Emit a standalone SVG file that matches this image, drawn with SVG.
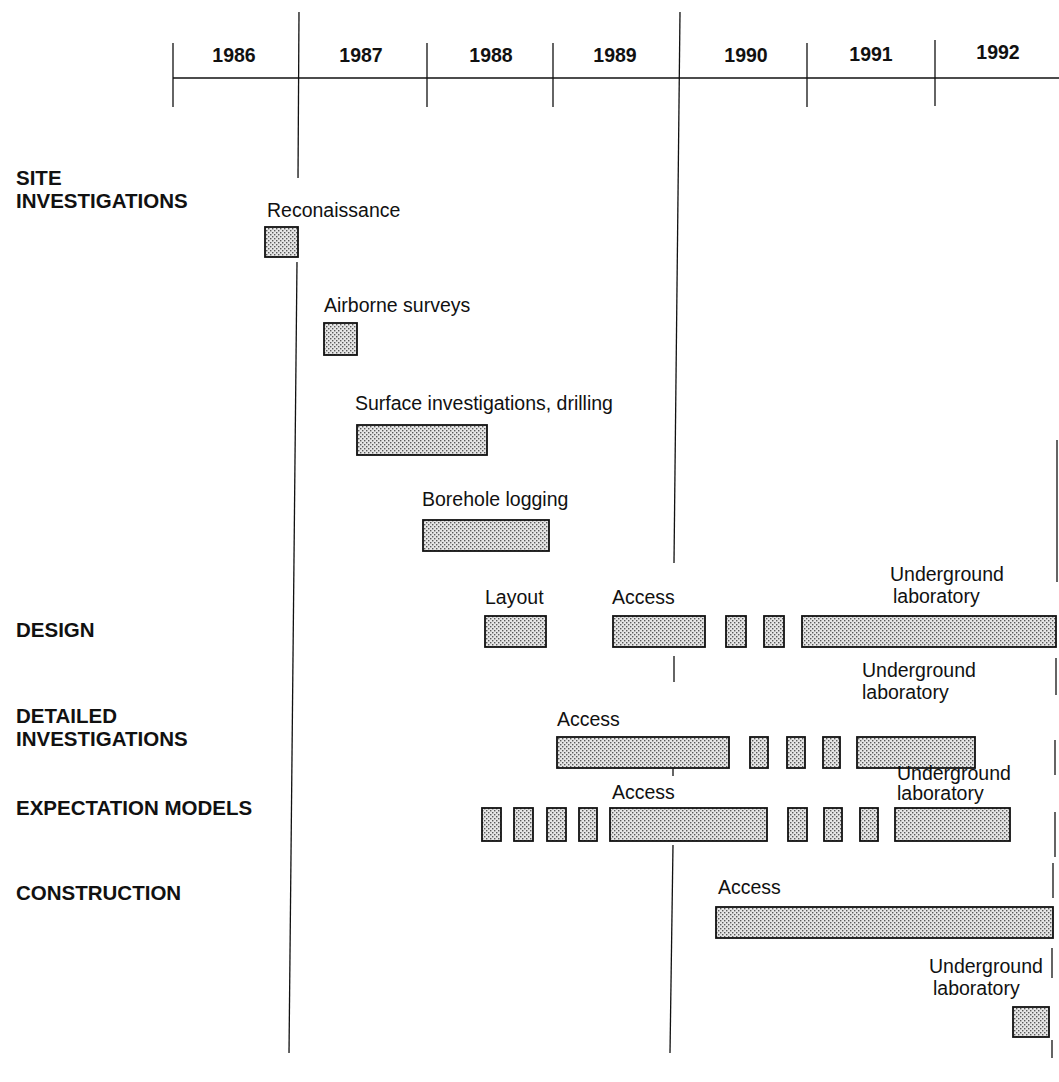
<svg xmlns="http://www.w3.org/2000/svg" width="1059" height="1082" viewBox="0 0 1059 1082">
<style>
.yr{font-family:"Liberation Sans",Arial,sans-serif;font-weight:bold;font-size:19.5px;fill:#111;text-anchor:middle}
.hd{font-family:"Liberation Sans",Arial,sans-serif;font-weight:bold;font-size:20.5px;fill:#111}
.lb{font-family:"Liberation Sans",Arial,sans-serif;font-size:19.5px;fill:#111}
.bar{fill:url(#dots);stroke:#111;stroke-width:1.8}
.ln{stroke:#111;stroke-width:1.3;fill:none}
</style>
<defs>
<pattern id="dots" width="4" height="4" patternUnits="userSpaceOnUse">
<rect width="4" height="4" fill="#e6e6e6"/>
<rect x="0" y="0" width="1.4" height="1.4" fill="#5a5a5a"/>
<rect x="2" y="2" width="1.4" height="1.4" fill="#5a5a5a"/>
</pattern>
</defs>
<rect width="1059" height="1082" fill="#fff"/>
<g id="axis">
<line class="ln" x1="173" y1="78" x2="1059" y2="78"/>
<line class="ln" x1="173" y1="43" x2="173" y2="107"/>
<line class="ln" x1="427" y1="43" x2="427" y2="107"/>
<line class="ln" x1="553" y1="43" x2="553" y2="107"/>
<line class="ln" x1="807" y1="43" x2="807" y2="107"/>
<line class="ln" x1="935" y1="40" x2="935" y2="106"/>
<text class="yr" x="234" y="62">1986</text>
<text class="yr" x="361" y="62">1987</text>
<text class="yr" x="491" y="62">1988</text>
<text class="yr" x="615" y="62">1989</text>
<text class="yr" x="746" y="62">1990</text>
<text class="yr" x="871" y="61">1991</text>
<text class="yr" x="998" y="59">1992</text>
</g>
<g id="connectors">
<line class="ln" x1="299" y1="12" x2="298" y2="178"/>
<line class="ln" x1="297" y1="262" x2="289" y2="1053"/>
<line class="ln" x1="680" y1="12" x2="674" y2="563"/>
<line class="ln" x1="674" y1="656" x2="674" y2="682"/>
<line class="ln" x1="673" y1="754" x2="673" y2="776"/>
<line class="ln" x1="673" y1="845" x2="670" y2="1053"/>
<line class="ln" x1="1057" y1="440" x2="1057" y2="582"/>
<line class="ln" x1="1056" y1="658" x2="1056" y2="695"/>
<line class="ln" x1="1055" y1="740" x2="1055" y2="775"/>
<line class="ln" x1="1055" y1="812" x2="1055" y2="857"/>
<line class="ln" x1="1053" y1="863" x2="1053" y2="898"/>
<line class="ln" x1="1052" y1="948" x2="1052" y2="978"/>
<line class="ln" x1="1052" y1="1040" x2="1052" y2="1058"/>
</g>
<g id="row-site">
<text class="hd" x="16" y="185">SITE</text>
<text class="hd" x="16" y="208">INVESTIGATIONS</text>
</g>
<g id="reconaissance">
<text class="lb" x="267" y="217">Reconaissance</text>
<rect class="bar" x="265" y="227" width="33" height="30"/>
</g>
<g id="airborne-surveys">
<text class="lb" x="324" y="312">Airborne surveys</text>
<rect class="bar" x="324" y="323" width="33" height="32"/>
</g>
<g id="surface-investigations">
<text class="lb" x="355" y="410">Surface investigations, drilling</text>
<rect class="bar" x="357" y="425" width="130" height="30"/>
</g>
<g id="borehole-logging">
<text class="lb" x="422" y="506">Borehole logging</text>
<rect class="bar" x="423" y="520" width="126" height="31"/>
</g>
<g id="row-design">
<text class="hd" x="16" y="637">DESIGN</text>
</g>
<g id="design-layout">
<text class="lb" x="485" y="604">Layout</text>
<rect class="bar" x="485" y="616" width="61" height="31"/>
</g>
<g id="design-access">
<text class="lb" x="612" y="604">Access</text>
<rect class="bar" x="613" y="616" width="92" height="31"/>
<rect class="bar" x="726" y="616" width="20" height="31"/>
<rect class="bar" x="764" y="616" width="20" height="31"/>
</g>
<g id="design-lab">
<text class="lb" x="890" y="581">Underground</text>
<text class="lb" x="893" y="603">laboratory</text>
<rect class="bar" x="802" y="616" width="254" height="31"/>
</g>
<g id="row-detailed">
<text class="hd" x="16" y="723">DETAILED</text>
<text class="hd" x="16" y="746">INVESTIGATIONS</text>
</g>
<g id="detailed-access">
<text class="lb" x="557" y="726">Access</text>
<rect class="bar" x="557" y="737" width="172" height="31"/>
<rect class="bar" x="750" y="737" width="18" height="31"/>
<rect class="bar" x="787" y="737" width="18" height="31"/>
<rect class="bar" x="823" y="737" width="17" height="31"/>
</g>
<g id="detailed-lab">
<text class="lb" x="862" y="677">Underground</text>
<text class="lb" x="862" y="699">laboratory</text>
<rect class="bar" x="857" y="737" width="118" height="31"/>
</g>
<g id="row-expectation">
<text class="hd" x="16" y="815">EXPECTATION MODELS</text>
</g>
<g id="expectation-access">
<rect class="bar" x="482" y="808" width="19" height="33"/>
<rect class="bar" x="514" y="808" width="19" height="33"/>
<rect class="bar" x="547" y="808" width="19" height="33"/>
<rect class="bar" x="579" y="808" width="18" height="33"/>
<text class="lb" x="612" y="799">Access</text>
<rect class="bar" x="610" y="808" width="157" height="33"/>
<rect class="bar" x="788" y="808" width="19" height="33"/>
<rect class="bar" x="824" y="808" width="18" height="33"/>
<rect class="bar" x="860" y="808" width="18" height="33"/>
</g>
<g id="expectation-lab">
<text class="lb" x="897" y="780">Underground</text>
<text class="lb" x="897" y="800">laboratory</text>
<rect class="bar" x="895" y="808" width="115" height="33"/>
</g>
<g id="row-construction">
<text class="hd" x="16" y="900">CONSTRUCTION</text>
</g>
<g id="construction-access">
<text class="lb" x="718" y="894">Access</text>
<rect class="bar" x="716" y="907" width="337" height="31"/>
</g>
<g id="construction-lab">
<text class="lb" x="929" y="973">Underground</text>
<text class="lb" x="933" y="995">laboratory</text>
<rect class="bar" x="1013" y="1007" width="36" height="30"/>
</g>
</svg>
